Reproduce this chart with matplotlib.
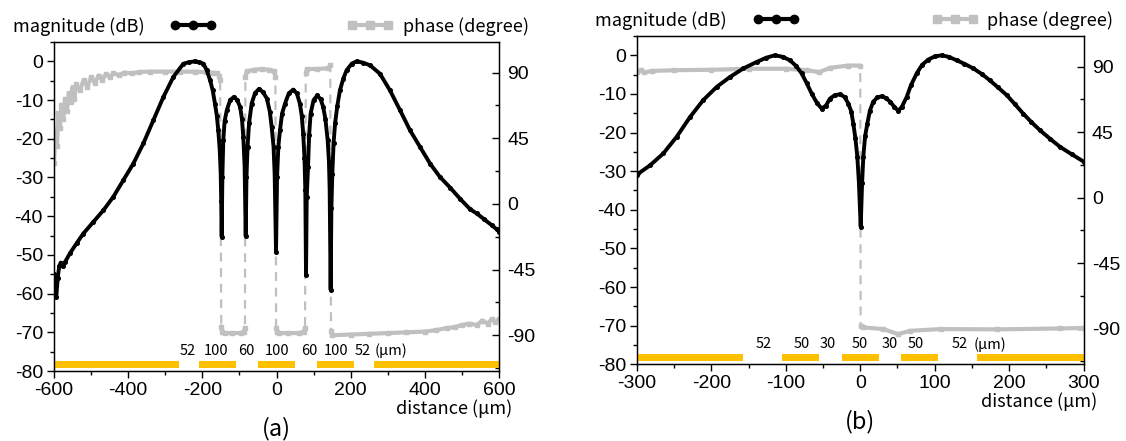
import numpy as np
import matplotlib
matplotlib.use("Agg")
import matplotlib.pyplot as plt
from matplotlib.lines import Line2D
from matplotlib.ticker import MultipleLocator

# ---- panel (a) data ----
xa_mag = [-600, -597, -594, -590, -586, -582, -576, -570, -557, -539, -521, -494, -467,
          -440, -413, -386, -359, -332, -305, -278, -251, -235, -220, -208, -197, -188,
          -179, -172, -166, -161, -157, -153, -150.5, -149, -147.8,
          -146, -143.5, -140, -134, -125, -115, -106, -98, -93, -89.5, -86, -83,
          -81, -78, -74, -67, -58, -47, -36, -26, -18, -13, -8, -5, -1.3,
          1.5, 5, 9.4, 15, 23, 33, 45, 55, 63, 68, 72, 75.5, 77.7, 79.6,
          81.5, 85, 88, 92, 100, 110, 119, 126, 132, 138, 141.5, 143.4, 146,
          148, 150.5, 154, 158, 164, 171, 180, 189, 203, 216, 232, 252, 279, 306,
          333, 360, 387, 414, 441, 468, 495, 522, 540, 560, 580, 594, 600]
a_mag = [-55, -58, -61, -56, -53, -52, -53, -51.8, -49.6, -47, -44.5, -41.5, -38.5,
         -35, -30.7, -26.4, -21.2, -15.2, -9.2, -4, -0.6, -0.2, 0, -0.2, -0.6, -2.3,
         -4.9, -7.5, -10.9, -14, -17.8, -23, -29, -36, -45.3,
         -30, -20.4, -15.5, -12.6, -10, -9.2, -10, -11.8, -15, -19.6, -27, -45.2,
         -30, -22, -16, -10.9, -8.2, -7.1, -8, -9.6, -13, -17, -22, -29, -49.3,
         -30, -22, -17.8, -13.5, -10.9, -8.3, -7.3, -8.3, -10.9, -14, -18.7, -25, -33.3,
         -55.3,
         -35, -27.3, -19, -13.5, -10, -8.8, -9.8, -11.8, -15, -20.4, -26, -33.3, -59,
         -38, -29, -21, -16, -11.5, -7.5, -4.5, -2.3, -0.6, 0,
         -0.3, -1, -3.2, -7.5, -12.6, -17.8, -22.1, -26.4, -29.9, -32.6, -35.5, -38.2,
         -39.3, -40.8, -42.3, -43.4, -44]

xa_ph = [-600, -596, -592, -588, -584, -580, -575, -570, -565, -560, -555, -550, -545,
         -540, -530, -520, -510, -500, -490, -480, -470, -460, -450, -440, -425, -410,
         -390, -370, -340, -300, -260, -220, -190, -170, -160, -155, -152,
         -149, -146, -140, -120, -95, -88, -85,
         -84, -80, -60, -40, -20, -6, -3,
         -1, 2, 6, 30, 60, 74, 77,
         79, 82, 110, 140, 145,
         147, 150, 200, 250, 300, 350, 400, 430, 460, 480, 500, 520, 540, 555, 570,
         580, 590, 600]
a_ph = [28, 50, 40, 62, 52, 68, 58, 72, 64, 76, 70, 80, 72,
        82, 78, 85, 80, 87, 83, 88, 85, 89, 87, 89.5, 88.5, 90, 89.5, 90.5, 90.7,
        90.7, 90.7, 90.6, 90.3, 90, 89.5, 88, 85,
        -84, -87.5, -88.5, -88.5, -88.5, -87.5, -85,
        87, 91, 92, 92.5, 92, 91, 87,
        -85, -88, -88.5, -88.5, -88.5, -87.5, -85,
        90, 92.5, 92.5, 93, 95,
        -87, -90, -89.5, -89, -88.5, -88, -87.5, -86.5, -85, -84.5, -83, -82, -83,
        -80, -82, -79, -81, -79]

a_bar_lo = [-600, -210, -50, 110, 262]
a_bar_hi = [-262, -110, 50, 210, 600]
a_seg_text = ["52", "100", "60", "100", "60", "100", "52", "(μm)"]
a_seg_x = [-240, -163, -81, 1, 88, 160, 232, 309]

# ---- panel (b) data ----
xb_mag = [-300, -298, -282.5, -264.6, -246.7, -228.8, -211, -193, -175, -157, -139,
          -126, -114.6, -104, -94.4, -86, -78.7, -72, -65.3, -58, -51.8, -46, -40.7,
          -34, -27.2, -21, -16, -12, -9.3, -6.5, -3.9, -1.8, 0.6, 2.5, 4.1,
          6.5, 9.5, 13, 17.5, 23, 28.8, 34, 40, 46, 51.2, 56, 62.4, 68, 75.8, 83,
          91.4, 100, 109.4, 119, 129.6, 140, 152, 163, 174.3, 185, 196.8,
          208, 219, 230, 241.5, 255, 268.4, 284, 300]
b_mag = [-31, -30.6, -28.5, -25.4, -21.1, -16, -11.6, -8.2, -5.6, -3.4, -1.7,
         -0.6, 0, -0.4, -1.3, -2.8, -4.7, -7.2, -9.9, -12.4, -13.8, -13, -11.2,
         -10.3, -10.1, -10.8, -12.5, -14.6, -17.7, -21.5, -26.3, -33, -44.4, -33, -26.3,
         -21, -17.7, -14.3, -12, -10.9, -10.6, -11, -12, -13.4, -14.4, -13.3, -10.8,
         -7.8, -4.7, -2.5, -1.1, -0.3, 0, -0.4, -1.3, -2.2, -3.4, -4.8, -6.5, -8.3,
         -10.3, -12.7, -15.1, -17.3, -19.4, -21.6, -23.7, -25.6, -27.5]

xb_ph = [-300, -295, -290, -280, -250, -200, -150, -100, -72, -55, -40, -16, 0,
         0.5, 4, 31, 51, 67, 108, 184, 268, 300]
b_ph = [86, 87.5, 86, 87, 87.5, 87.8, 88.5, 88.5, 87.5, 86.2, 89.2, 90.7, 90.7,
        -88, -89.2, -90.3, -93.8, -91.5, -90.3, -90.5, -89.9, -89.5]

b_bar_lo = [-300, -105, -25, 55, 157]
b_bar_hi = [-157, -55, 25, 105, 300]
b_seg_text = ["52", "50", "30", "50", "30", "50", "52", "(μm)"]
b_seg_x = [-130, -79, -44, 0, 39, 74, 133, 175]

GRAY = "#c0c0c0"
GOLD = "#ffc000"
TXT_FONT = ["Noto Sans CJK KR", "DejaVu Sans"]

plt.rcParams["font.family"] = ["Liberation Sans", "DejaVu Sans"]
plt.rcParams["font.size"] = 14
plt.rcParams["axes.unicode_minus"] = False


def split_at_jumps(x, y, limit=60):
    x = np.asarray(x, float)
    y = np.asarray(y, float)
    jump = np.where(np.abs(np.diff(y)) > limit)[0] + 1
    return np.insert(x, jump, np.nan), np.insert(y, jump, np.nan)


def draw_panel(ax, x_mag, mag, x_ph, ph, xlim, xmaj, bar_lo, bar_hi,
               seg_text, seg_x, label):
    ax2 = ax.twinx()
    ax.set_zorder(ax2.get_zorder() + 1)
    ax.patch.set_visible(False)

    # phase: dashed jumps + thick flat parts
    ax2.plot(x_ph, ph, color=GRAY, lw=1.6, ls=(0, (4, 3)))
    xs, ys = split_at_jumps(x_ph, ph)
    ax2.plot(xs, ys, color=GRAY, lw=3, marker="s", ms=2.5,
             solid_capstyle="round")

    # magnitude
    ax.plot(x_mag, mag, color="black", lw=2.8, marker="o", ms=2.6)

    # electrode bars
    ax.broken_barh([(lo, hi - lo) for lo, hi in zip(bar_lo, bar_hi)],
                   (-79.2, 1.9), facecolors=GOLD)
    for t, xx in zip(seg_text, seg_x):
        ax.text(xx, -74.8, t, ha="center", va="center", fontsize=10.5,
                family=TXT_FONT)

    ax.set_xlim(*xlim)
    ax.set_ylim(-80, 5)
    ax2.set_ylim(-114.5, 111)
    ax.xaxis.set_major_locator(MultipleLocator(xmaj))
    ax.xaxis.set_minor_locator(MultipleLocator(xmaj / 2))
    ax.yaxis.set_major_locator(MultipleLocator(10))
    ax.yaxis.set_minor_locator(MultipleLocator(5))
    ax2.yaxis.set_major_locator(MultipleLocator(45))
    ax2.yaxis.set_minor_locator(MultipleLocator(22.5))
    ax.tick_params(which="major", direction="out", length=5, width=1, pad=3)
    ax.tick_params(which="minor", direction="out", length=3, width=1)
    ax2.tick_params(which="major", direction="in", length=5, width=1, pad=6)
    ax2.tick_params(which="minor", direction="in", length=3, width=1)
    for sp in ax.spines.values():
        sp.set_linewidth(1)

    ax.text(1.03, -0.115, "distance (μm)", transform=ax.transAxes, ha="right",
            va="center", fontsize=13, family=TXT_FONT)
    ax.text(0.5, -0.175, label, transform=ax.transAxes, ha="center",
            va="center", fontsize=17, family=TXT_FONT)

    h_mag = Line2D([], [], color="black", lw=3, marker="o", ms=6)
    h_ph = Line2D([], [], color=GRAY, lw=3, marker="s", ms=6)
    leg1 = ax.legend([h_mag], ["magnitude (dB)"], loc="center left",
                     bbox_to_anchor=(-0.093, 1.048), frameon=False,
                     markerfirst=False, numpoints=3, handlelength=2.6,
                     handletextpad=1.4, borderpad=0, borderaxespad=0,
                     prop={"family": TXT_FONT, "size": 13})
    ax.add_artist(leg1)
    ax.legend([h_ph], ["phase (degree)"], loc="center right",
              bbox_to_anchor=(1.067, 1.048), frameon=False, numpoints=3,
              handlelength=2.6, handletextpad=0.5, borderpad=0,
              borderaxespad=0, prop={"family": TXT_FONT, "size": 13})
    return ax2


fig = plt.figure(figsize=(11.26, 4.41), dpi=100)
ax_a = fig.add_axes([54 / 1126, 1 - 371 / 441, 445 / 1126, 329 / 441])
ax_b = fig.add_axes([637 / 1126, 1 - 364.3 / 441, 446.5 / 1126, 328.3 / 441])

draw_panel(ax_a, xa_mag, a_mag, xa_ph, a_ph, (-600, 600), 200,
           a_bar_lo, a_bar_hi, a_seg_text, a_seg_x, "(a)")
draw_panel(ax_b, xb_mag, b_mag, xb_ph, b_ph, (-300, 300), 100,
           b_bar_lo, b_bar_hi, b_seg_text, b_seg_x, "(b)")

fig.savefig("out.png", dpi=100)
